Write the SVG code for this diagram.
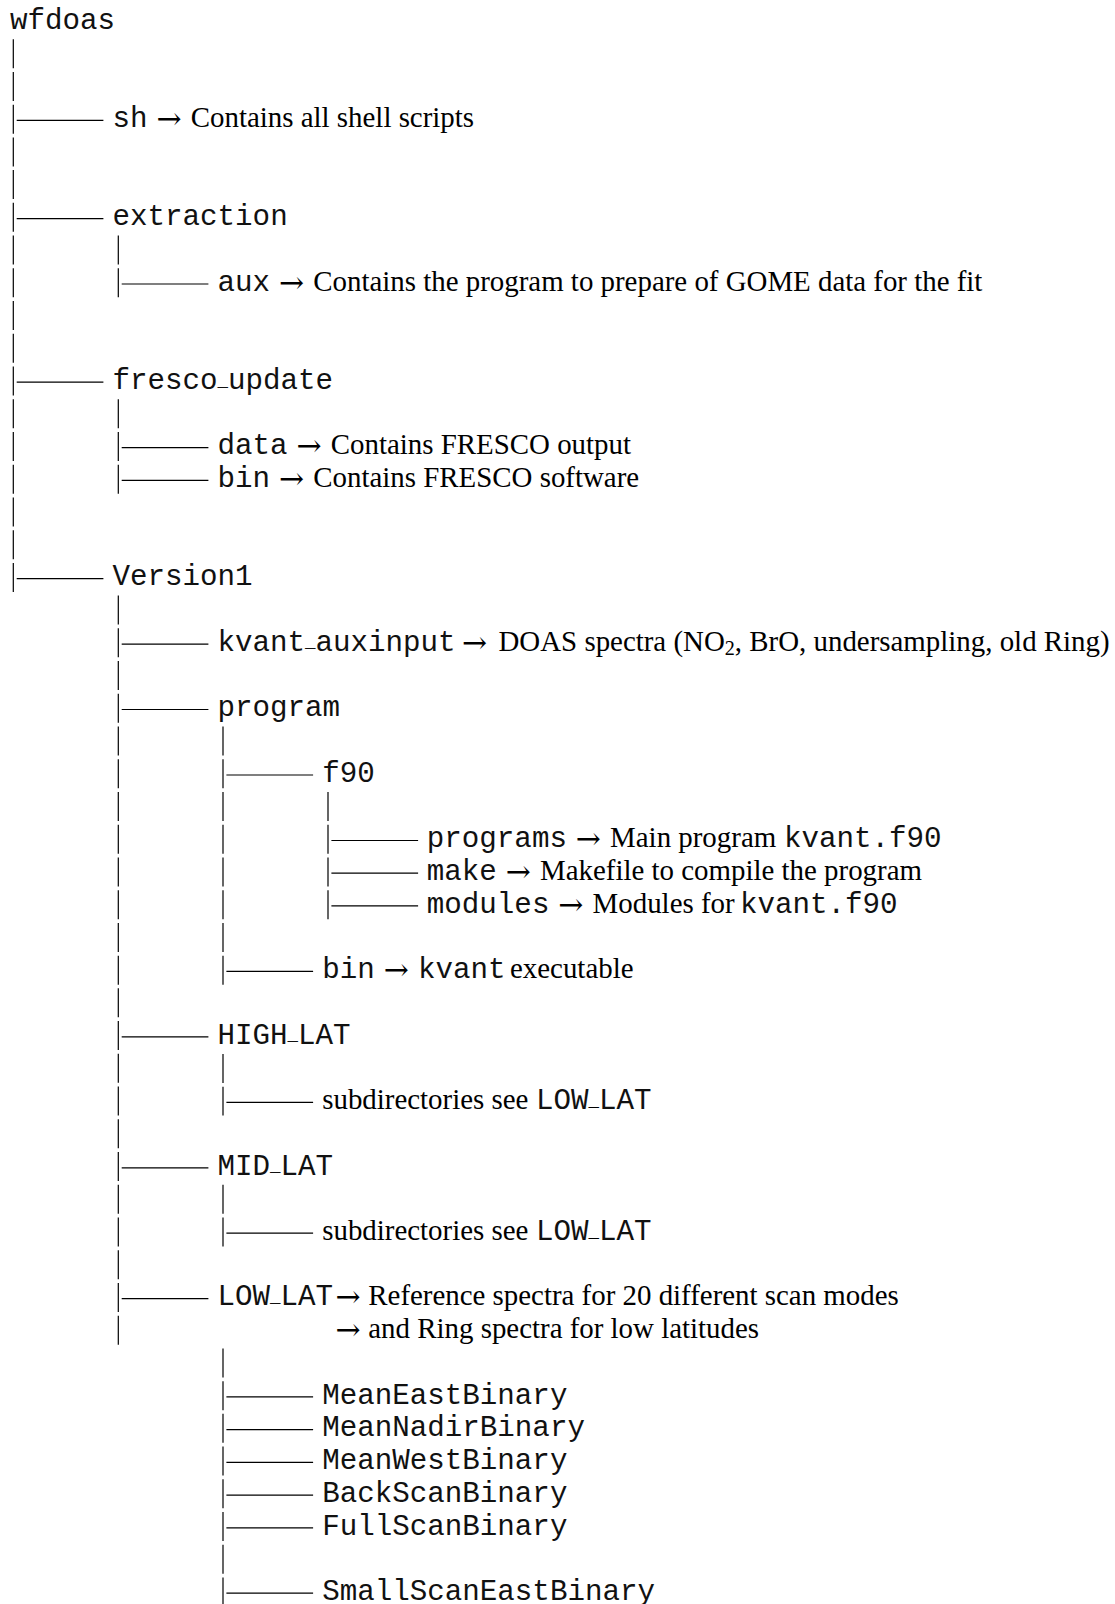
<svg xmlns="http://www.w3.org/2000/svg" width="1115" height="1604" viewBox="0 0 1115 1604">
<style>
.m{font-family:"Liberation Mono","Courier New",monospace;font-size:29.2px;fill:#111}
.s{font-family:"Liberation Serif","Times New Roman",serif;font-size:28.9px;fill:#000}
.ar{font-family:"DejaVu Serif",serif;font-size:30px;fill:#000;text-anchor:middle}
.us{font-family:"Liberation Mono",monospace;font-size:17.5px}
.sub{font-size:20.2px}
.v{stroke:#000;stroke-width:1.2;stroke-dasharray:29 3.73;fill:none}
.h{stroke:#000;stroke-width:1.2;fill:none}
</style>
<rect width="1115" height="1604" fill="#fff"/>
<g id="connectors">
<line class="v" x1="13.3" y1="39.2" x2="13.3" y2="591.9"/>
<line class="v" x1="118.3" y1="235.6" x2="118.3" y2="297.3"/>
<line class="v" x1="118.3" y1="399.3" x2="118.3" y2="493.7"/>
<line class="v" x1="118.3" y1="595.6" x2="118.3" y2="1344.7"/>
<line class="v" x1="223" y1="726.6" x2="223" y2="984.7"/>
<line class="v" x1="223" y1="1053.9" x2="223" y2="1115.6"/>
<line class="v" x1="223" y1="1184.8" x2="223" y2="1246.5"/>
<line class="v" x1="223" y1="1348.4" x2="223" y2="1606.5"/>
<line class="v" x1="328" y1="792.1" x2="328" y2="919.2"/>
<line class="h" x1="16.7" y1="120.4" x2="103.4" y2="120.4"/>
<line class="h" x1="16.7" y1="218.6" x2="103.4" y2="218.6"/>
<line class="h" x1="16.7" y1="382.2" x2="103.4" y2="382.2"/>
<line class="h" x1="16.7" y1="578.6" x2="103.4" y2="578.6"/>
<line class="h" x1="121.7" y1="284.0" x2="208.4" y2="284.0"/>
<line class="h" x1="121.7" y1="447.7" x2="208.4" y2="447.7"/>
<line class="h" x1="121.7" y1="480.4" x2="208.4" y2="480.4"/>
<line class="h" x1="121.7" y1="644.1" x2="208.4" y2="644.1"/>
<line class="h" x1="121.7" y1="709.5" x2="208.4" y2="709.5"/>
<line class="h" x1="121.7" y1="1036.8" x2="208.4" y2="1036.8"/>
<line class="h" x1="121.7" y1="1167.8" x2="208.4" y2="1167.8"/>
<line class="h" x1="121.7" y1="1298.7" x2="208.4" y2="1298.7"/>
<line class="h" x1="226.4" y1="775.0" x2="313.1" y2="775.0"/>
<line class="h" x1="226.4" y1="971.4" x2="313.1" y2="971.4"/>
<line class="h" x1="226.4" y1="1102.3" x2="313.1" y2="1102.3"/>
<line class="h" x1="226.4" y1="1233.2" x2="313.1" y2="1233.2"/>
<line class="h" x1="226.4" y1="1396.9" x2="313.1" y2="1396.9"/>
<line class="h" x1="226.4" y1="1429.6" x2="313.1" y2="1429.6"/>
<line class="h" x1="226.4" y1="1462.3" x2="313.1" y2="1462.3"/>
<line class="h" x1="226.4" y1="1495.1" x2="313.1" y2="1495.1"/>
<line class="h" x1="226.4" y1="1527.8" x2="313.1" y2="1527.8"/>
<line class="h" x1="226.4" y1="1593.2" x2="313.1" y2="1593.2"/>
<line class="h" x1="331.4" y1="840.5" x2="418.1" y2="840.5"/>
<line class="h" x1="331.4" y1="873.2" x2="418.1" y2="873.2"/>
<line class="h" x1="331.4" y1="905.9" x2="418.1" y2="905.9"/>
</g>
<g id="n-wfdoas"><text class="m" x="10" y="29">wfdoas</text></g>
<g id="n-sh"><text class="m" x="112.5" y="127.19">sh</text><text class="ar" x="169" y="127.19" dy="2">→</text><text class="s" x="190.8" y="127.19">Contains all shell scripts</text></g>
<g id="n-extraction"><text class="m" x="112.5" y="225.38">extraction</text></g>
<g id="n-aux"><text class="m" x="217.5" y="290.84">aux</text><text class="ar" x="291.5" y="290.84" dy="2">→</text><text class="s" x="313.3" y="290.84">Contains the program to prepare of GOME data for the fit</text></g>
<g id="n-fresco_update"><text class="m" x="112.5" y="389.03">fresco<tspan class="us" x="217.5" dy="-3.5">_</tspan><tspan x="228" dy="3.5">update</tspan></text></g>
<g id="n-data"><text class="m" x="217.5" y="454.49">data</text><text class="ar" x="309" y="454.49" dy="2">→</text><text class="s" x="330.8" y="454.49">Contains FRESCO output</text></g>
<g id="n-fresco-bin"><text class="m" x="217.5" y="487.22">bin</text><text class="ar" x="291.5" y="487.22" dy="2">→</text><text class="s" x="313.3" y="487.22">Contains FRESCO software</text></g>
<g id="n-version1"><text class="m" x="112.5" y="585.41">Version1</text></g>
<g id="n-kvant_auxinput"><text class="m" x="217.5" y="650.87">kvant<tspan class="us" x="305" dy="-3.5">_</tspan><tspan x="315.5" dy="3.5">auxinput</tspan></text><text class="ar" x="474.5" y="650.87" dy="2">→</text><text class="s" x="498.5" y="650.87">DOAS spectra (NO<tspan class="sub" dy="4.5">2</tspan><tspan dy="-4.5">, BrO, undersampling, old Ring)</tspan></text></g>
<g id="n-program"><text class="m" x="217.5" y="716.33">program</text></g>
<g id="n-f90"><text class="m" x="322.2" y="781.79">f90</text></g>
<g id="n-programs"><text class="m" x="426.8" y="847.25">programs</text><text class="ar" x="588.3" y="847.25" dy="2">→</text><text class="s" x="610.1" y="847.25">Main program <tspan class="m" x="784">kvant.f90</tspan></text></g>
<g id="n-make"><text class="m" x="426.8" y="879.98">make</text><text class="ar" x="518.3" y="879.98" dy="2">→</text><text class="s" x="540.1" y="879.98">Makefile to compile the program</text></g>
<g id="n-modules"><text class="m" x="426.8" y="912.71">modules</text><text class="ar" x="570.8" y="912.71" dy="2">→</text><text class="s" x="592.6" y="912.71">Modules for <tspan class="m" x="740">kvant.f90</tspan></text></g>
<g id="n-program-bin"><text class="m" x="322.2" y="978.17">bin</text><text class="ar" x="396.2" y="978.17" dy="2">→</text><text class="s" x="418" y="978.17"><tspan class="m">kvant</tspan><tspan x="510">executable</tspan></text></g>
<g id="n-high_lat"><text class="m" x="217.5" y="1043.63">HIGH<tspan class="us" x="287.5" dy="-3.5">_</tspan><tspan x="298" dy="3.5">LAT</tspan></text></g>
<g id="n-high-sub"><text class="s" x="322.2" y="1109.09">subdirectories see <tspan class="m" x="536">LOW</tspan><tspan class="us" x="588.5" dy="-3.5">_</tspan><tspan class="m" x="599" dy="3.5">LAT</tspan></text></g>
<g id="n-mid_lat"><text class="m" x="217.5" y="1174.55">MID<tspan class="us" x="270" dy="-3.5">_</tspan><tspan x="280.5" dy="3.5">LAT</tspan></text></g>
<g id="n-mid-sub"><text class="s" x="322.2" y="1240.01">subdirectories see <tspan class="m" x="536">LOW</tspan><tspan class="us" x="588.5" dy="-3.5">_</tspan><tspan class="m" x="599" dy="3.5">LAT</tspan></text></g>
<g id="n-low_lat"><text class="m" x="217.5" y="1305.47">LOW<tspan class="us" x="270" dy="-3.5">_</tspan><tspan x="280.5" dy="3.5">LAT</tspan></text><text class="ar" x="348" y="1305.47" dy="2">→</text><text class="s" x="368.3" y="1305.47">Reference spectra for 20 different scan modes</text><text class="ar" x="348" y="1338.2" dy="2">→</text><text class="s" x="368.3" y="1338.2">and Ring spectra for low latitudes</text></g>
<g id="n-meaneast"><text class="m" x="322.2" y="1403.66">MeanEastBinary</text></g>
<g id="n-meannadir"><text class="m" x="322.2" y="1436.39">MeanNadirBinary</text></g>
<g id="n-meanwest"><text class="m" x="322.2" y="1469.12">MeanWestBinary</text></g>
<g id="n-backscan"><text class="m" x="322.2" y="1501.85">BackScanBinary</text></g>
<g id="n-fullscan"><text class="m" x="322.2" y="1534.58">FullScanBinary</text></g>
<g id="n-smallscaneast"><text class="m" x="322.2" y="1600.04">SmallScanEastBinary</text></g>
</svg>
